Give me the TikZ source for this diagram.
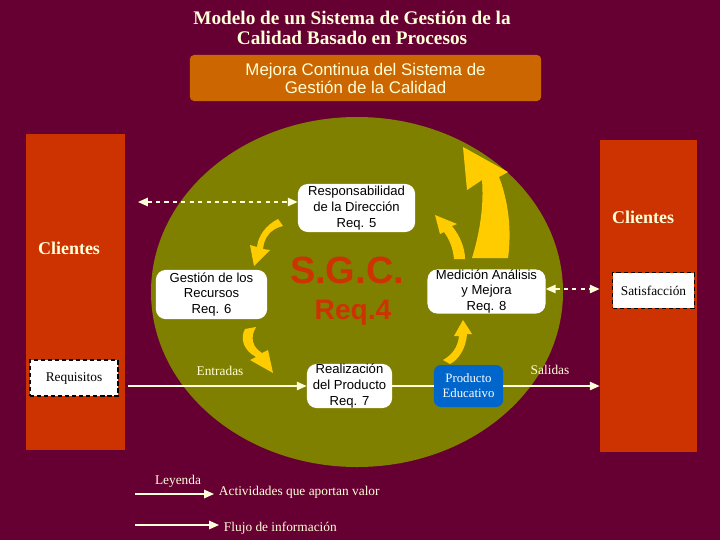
\documentclass[tikz,border=0pt]{standalone}
\usepackage{fontspec}
\setmainfont{Liberation Serif}
\setsansfont{Liberation Sans}
\usetikzlibrary{arrows.meta}
\definecolor{fondo}{HTML}{660033}
\definecolor{oliva}{HTML}{808000}
\definecolor{rojo}{HTML}{CC3300}
\definecolor{naranja}{HTML}{CC6600}
\definecolor{amarillo}{HTML}{FFCC00}
\definecolor{azul}{HTML}{0066CC}
\definecolor{crema}{HTML}{FFFFD8}
\tikzset{
  procbox/.style={fill=white, rounded corners=7pt, align=center, inner sep=0pt,
    font=\sffamily\fontsize{9.3}{11.3}\selectfont},
  dashbox/.style={fill=white, draw=black, densely dashed, thick, inner sep=0pt,
    font=\fontsize{9.5}{11}\selectfont},
  clibar/.style={fill=rojo, inner sep=0pt},
  etiq/.style={text=crema, font=\fontsize{9.5}{11}\selectfont},
  flujo/.style={crema, line width=1pt, -{Triangle[width=6pt,length=7pt]}},
  info/.style={crema, line width=1pt, dashed,
    {Triangle[width=6pt,length=7pt]}-{Triangle[width=6pt,length=7pt]}},
}
\begin{document}
\begin{tikzpicture}[x=0.025cm, y=-0.025cm]
    \useasboundingbox (0,0) rectangle (720,540);
    \fill[fondo] (0,0) rectangle (720,540);
    % titulo
    \node[text=crema, align=center, font=\bfseries\fontsize{13.7}{14.2}\selectfont] (titulo) at (352,28)
        {Modelo de un Sistema de Gestión de la\\Calidad Basado en Procesos};
    \node[fill=naranja, rounded corners=3pt, minimum width=8.78cm, minimum height=1.15cm,
        text=crema, align=center, font=\sffamily\fontsize{12}{12.8}\selectfont] (mejora) at (365.5,78)
        {Mejora Continua del Sistema de\\Gestión de la Calidad};
    % clientes
    \node[clibar, minimum width=2.48cm, minimum height=7.9cm] (cliizq) at (75.5,292) {};
    \node[clibar, minimum width=2.43cm, minimum height=7.8cm] (clider) at (648.5,296) {};
    \node[text=crema, font=\bfseries\fontsize{12.8}{14}\selectfont] (cli1) at (69,248) {Clientes};
    \node[text=crema, font=\bfseries\fontsize{12.8}{14}\selectfont] (cli2) at (643,217) {Clientes};
    \node[dashbox, minimum width=2.2cm, minimum height=0.9cm] (requisitos) at (74,378) {Requisitos};
    \node[dashbox, minimum width=2.03cm, minimum height=0.88cm] (satisf) at (653.5,290.5) {Satisfacción};
    % sistema
    \fill[oliva] (357,292) ellipse [x radius=206, y radius=175];
    \node[text=rojo, font=\sffamily\bfseries\fontsize{27}{30}\selectfont] (sgc) at (347,270) {S.G.C.};
    \node[text=rojo, font=\sffamily\bfseries\fontsize{20}{22}\selectfont] (req4) at (353,313) {Req.4};
    \node[procbox, minimum width=2.93cm, minimum height=1.2cm] (resp) at (356.5,208)
        {Responsabilidad\\de la Dirección\\Req. 5};
    \node[procbox, minimum width=2.78cm, minimum height=1.23cm] (recursos) at (211.5,294.5)
        {Gestión de los\\Recursos\\Req. 6};
    \node[procbox, minimum width=2.95cm, minimum height=1.1cm] (medicion) at (486.5,291.5)
        {Medición Análisis\\y Mejora\\Req. 8};
    \node[procbox, minimum width=2.13cm, minimum height=1.05cm] (realiz) at (349.5,386)
        {Realización\\del Producto\\Req. 7};
    \node[fill=azul, rounded corners=5pt, minimum width=1.73cm, minimum height=1.05cm, inner sep=0pt,
        text=white, align=center, font=\fontsize{9.1}{10.6}\selectfont] (producto) at (468.5,386)
        {Producto\\Educativo};
    % flechas amarillas
    \fill[amarillo] (283,226) .. controls (270,229) and (264,238) .. (263,249) -- (270,250)
        -- (254,266) -- (250,245) -- (257,247) .. controls (258,236) and (266,225) .. (278,219) -- cycle;
    \fill[amarillo] (245,329) -- (256,327) .. controls (250,337) and (252,347) .. (262,353) -- (268,350)
        -- (273,373) -- (250,360) -- (256,357) .. controls (243,350) and (240,338) .. cycle;
    \fill[amarillo] (443,360) .. controls (452,355) and (458,347) .. (459,336) -- (454,336)
        -- (463,320) -- (472,334) -- (467,334) .. controls (466,349) and (458,360) .. (450,364) -- cycle;
    \fill[amarillo] (435,215) -- (457,224) -- (452,226) .. controls (460,236) and (465,248) .. (465,259)
        -- (454,259) .. controls (453,249) and (450,240) .. (444,232) -- (440,234) -- cycle;
    \fill[amarillo] (463,147) -- (508,172) -- (499,177) .. controls (508,200) and (512,230) .. (508,258)
        -- (472,258) .. controls (480,232) and (484,205) .. (482,180) -- (467,190) -- cycle;
    % flujos
    \coordinate (entra) at (128,386);
    \coordinate (dir) at (138,202);
    \draw[flujo] (entra) -- (realiz.west);
    \draw[crema, line width=1pt] (realiz.east) -- (producto.west);
    \draw[flujo] (producto.east) -- (producto.east -| clider.west);
    \draw[info] (dir) -- (dir -| resp.west);
    \draw[info] (medicion.east |- 0,289) -- (clider.west |- 0,289);
    \node[etiq] (entradas) at (220,371) {Entradas};
    \node[etiq] (salidas) at (550,370) {Salidas};
    % leyenda
    \coordinate (l1) at (135,494);
    \coordinate (l2) at (135,525);
    \node[etiq] (leyenda) at (178,481) {Leyenda};
    \node[etiq, anchor=west] (valor) at (214,492) {Actividades que aportan valor};
    \node[etiq, anchor=west] (infor) at (219,528) {Flujo de información};
    \draw[flujo] (l1) -- (l1 -| valor.west);
    \draw[flujo] (l2) -- (l2 -| infor.west);
\end{tikzpicture}
\end{document}
